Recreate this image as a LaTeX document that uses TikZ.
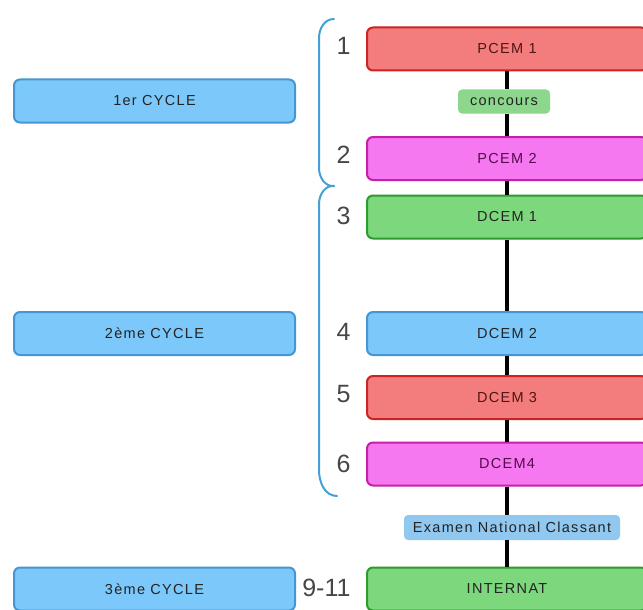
\documentclass[tikz,border=0pt]{standalone}
\usepackage{fontspec}
\setmainfont{Liberation Sans}
\newfontfamily\boxfont[LetterSpace=9]{Liberation Sans}
\definecolor{redfill}{RGB}{243,125,125}
\definecolor{redline}{RGB}{205,35,35}
\definecolor{redtext}{RGB}{80,20,20}
\definecolor{magfill}{RGB}{245,120,240}
\definecolor{magline}{RGB}{200,30,170}
\definecolor{magtext}{RGB}{85,10,75}
\definecolor{grnfill}{RGB}{125,215,125}
\definecolor{grnline}{RGB}{45,155,45}
\definecolor{blufill}{RGB}{125,200,250}
\definecolor{bluline}{RGB}{70,150,210}
\definecolor{concfill}{RGB}{140,215,140}
\definecolor{examfill}{RGB}{145,200,240}
\definecolor{bracecol}{RGB}{70,160,215}
\definecolor{numcol}{RGB}{70,70,70}
\definecolor{darktext}{RGB}{35,35,35}
\tikzset{
  stage/.style={rounded corners=6pt, line width=2pt, minimum width=280pt, minimum height=43pt,
    inner sep=0pt, font=\boxfont\fontsize{14.5}{16}\selectfont, text=darktext},
  redbox/.style={stage, fill=redfill, draw=redline, text=redtext},
  magbox/.style={stage, fill=magfill, draw=magline, text=magtext},
  grnbox/.style={stage, fill=grnfill, draw=grnline},
  blubox/.style={stage, fill=blufill, draw=bluline},
  tag/.style={rounded corners=4pt, inner sep=0pt, minimum height=24pt,
    font=\boxfont\fontsize{14.5}{16}\selectfont, text=darktext},
  num/.style={anchor=east, font=\fontsize{25}{28}\selectfont, text=numcol},
  link/.style={line width=4pt, black},
  bracestyle/.style={line width=2pt, bracecol, line cap=round}
}
\begin{document}
\begin{tikzpicture}[x=1pt,y=-1pt]
\clip (0,0) rectangle (643,610);
\fill[white] (0,0) rectangle (643,610);
% right column
\node[redbox] (p1) at (507,49) {PCEM 1};
\node[tag, fill=concfill, minimum width=92pt] (conc) at (504,101.5) {concours};
\node[magbox] (p2) at (507,158.5) {PCEM 2};
\node[grnbox] (d1) at (507,217) {DCEM 1};
\node[blubox] (d2) at (507,333.5) {DCEM 2};
\node[redbox] (d3) at (507,397.5) {DCEM 3};
\node[magbox] (d4) at (507,464) {DCEM4};
\node[tag, fill=examfill, minimum width=216pt, minimum height=25pt] (exam) at (512,527.5) {Examen National Classant};
\node[grnbox] (int) at (507,589) {INTERNAT};
% left column
\node[blubox, minimum width=281pt] (c1) at (154.5,101) {1er CYCLE};
\node[blubox, minimum width=281pt] (c2) at (154.5,333.5) {2ème CYCLE};
\node[blubox, minimum width=281pt] (c3) at (154.5,589) {3ème CYCLE};
% connectors
\draw[link] (p1.south) -- (p1.south |- conc.north);
\draw[link] (p1.south |- conc.south) -- (p2.north);
\draw[link] (p2.south) -- (d1.north);
\draw[link] (d1.south) -- (d2.north);
\draw[link] (d2.south) -- (d3.north);
\draw[link] (d3.south) -- (d4.north);
\draw[link] (d4.south) -- (d4.south |- exam.north);
\draw[link] (int.north |- exam.south) -- (int.north);
% numbers
\node[num] (n1) at (354,46) {1};
\node[num] (n2) at (354,155) {2};
\node[num] (n3) at (354,216) {3};
\node[num] (n4) at (354,332) {4};
\node[num] (n5) at (354,394) {5};
\node[num] (n6) at (354,464) {6};
\node[num] (n9) at (354,588) {9-11};
% braces
\coordinate (b1top) at (334,19);
\coordinate (bmid) at (334,186);
\coordinate (b2bot) at (337,496);
\draw[bracestyle] (b1top) to[out=180,in=90] (319,38) -- (319,168) to[out=-90,in=185] (bmid);
\draw[bracestyle] (bmid) to[out=175,in=90] (319,204) -- (319,470) to[out=-90,in=180] (b2bot);
\end{tikzpicture}
\end{document}
